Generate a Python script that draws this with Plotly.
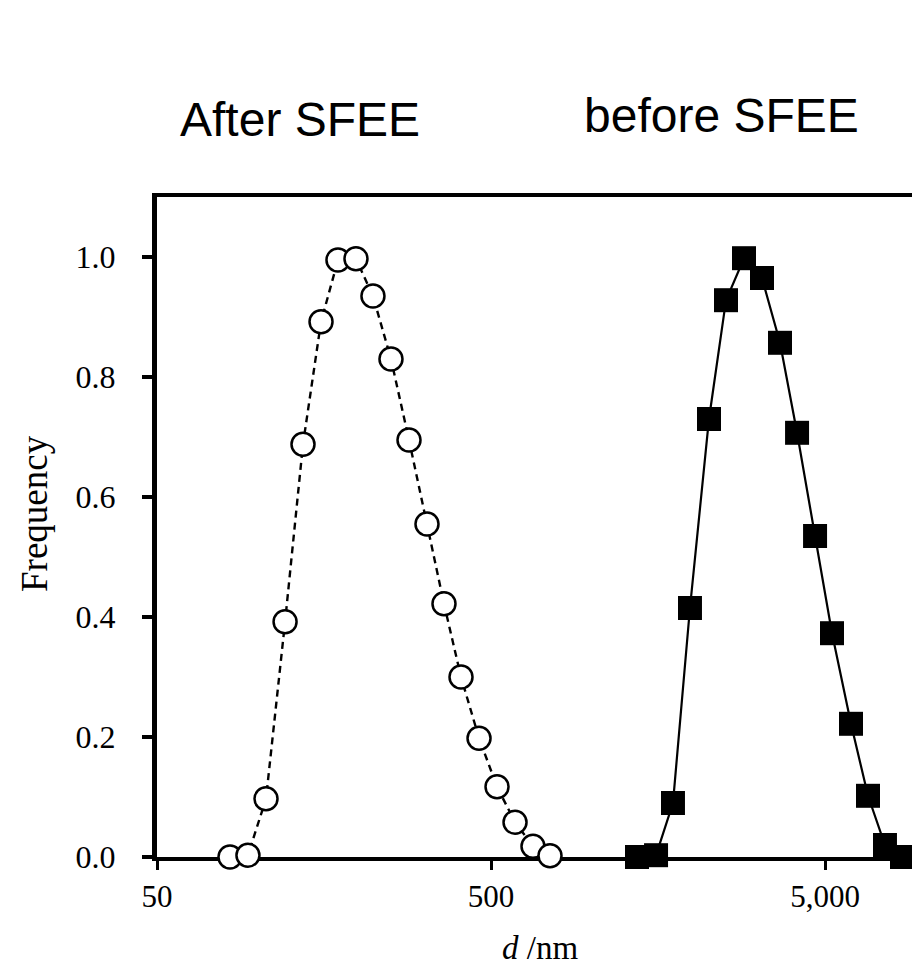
import plotly.graph_objects as go

# After SFEE (open circles, dashed line)
after_d = [82.7, 93.6, 106.0, 120.9, 136.8, 154.9, 174.1, 197.1, 221.6, 250.9,
           284.1, 321.6, 361.6, 406.6, 460.4, 521.2, 590.1, 667.9, 751.0]
after_f = [0.0, 0.003, 0.097, 0.392, 0.688, 0.892, 0.995, 0.997, 0.935, 0.830,
           0.695, 0.555, 0.422, 0.300, 0.198, 0.117, 0.058, 0.018, 0.002]

# before SFEE (filled squares, solid line)
before_d = [1368, 1560, 1753, 1971, 2247, 2527, 2861, 3238, 3667, 4124,
            4669, 5248, 5981, 6726, 7560, 8502]
before_f = [0.0, 0.003, 0.090, 0.415, 0.730, 0.928, 0.998, 0.965, 0.857, 0.707,
            0.535, 0.373, 0.222, 0.102, 0.020, 0.0]

x_tickvals = [50, 500, 5000]
x_ticktext = ["50", "500", "5,000"]
y_tickvals = [0.0, 0.2, 0.4, 0.6, 0.8, 1.0]
y_ticktext = ["0.0", "0.2", "0.4", "0.6", "0.8", "1.0"]

serif = "Liberation Serif"
sans = "Liberation Sans"

# The page body adds an 8 px margin, so the figure is drawn 8 px smaller
# and every position is given 8 px up/left of its place in the window.
OFF = 8
W, H = 920 - OFF, 970 - OFF
plot_l, plot_t, plot_b = 157 - OFF, 197 - OFF, 857 - OFF
plot_w = W - plot_l
plot_h = plot_b - plot_t
decade_px = 334.0
x0 = 1.69897
x1 = x0 + plot_w / decade_px

fig = go.Figure()
fig.add_trace(go.Scatter(
    x=after_d, y=after_f, mode="lines+markers", cliponaxis=False,
    line=dict(color="black", width=2.4, dash="7px,5px"),
    marker=dict(symbol="circle", size=23, color="white",
                line=dict(color="black", width=2.5)),
    showlegend=False))
fig.add_trace(go.Scatter(
    x=before_d, y=before_f, mode="lines+markers", cliponaxis=False,
    line=dict(color="black", width=2.2),
    marker=dict(symbol="square", size=24, color="black",
                line=dict(color="black", width=0)),
    showlegend=False))

fig.update_layout(
    width=W, height=H,
    margin=dict(l=plot_l, r=0, t=plot_t, b=H - plot_b),
    paper_bgcolor="white", plot_bgcolor="white",
    xaxis=dict(type="log", range=[x0, x1],
               tickvals=x_tickvals, ticktext=x_ticktext,
               ticks="outside", ticklen=9, tickwidth=3, tickcolor="black",
               showline=True, linecolor="black", linewidth=4, mirror=True,
               showgrid=False, zeroline=False, layer="below traces",
               ticklabelstandoff=0,
               tickfont=dict(family=serif, size=31, color="black")),
    yaxis=dict(range=[0, 1.1],
               tickvals=y_tickvals, ticktext=y_ticktext,
               ticks="outside", ticklen=10, tickwidth=4, tickcolor="black",
               showline=True, linecolor="black", linewidth=5,
               showgrid=False, zeroline=False, layer="below traces",
               ticklabelstandoff=20,
               tickfont=dict(family=serif, size=32, color="black")),
    annotations=[
        dict(text="Frequency", x=35, y=514, xref="paper", yref="paper",
             showarrow=False, textangle=-90, yanchor="middle",
             font=dict(family=serif, size=37, color="black")),
        dict(text="<i>d</i> /nm", x=540, y=968, xref="paper", yref="paper",
             showarrow=False, yanchor="bottom",
             font=dict(family=serif, size=33, color="black")),
        dict(text="After SFEE", x=300, y=119, xref="paper", yref="paper",
             showarrow=False, yanchor="middle",
             font=dict(family=sans, size=48, color="black")),
        dict(text="before SFEE", x=721, y=116, xref="paper", yref="paper",
             showarrow=False, yanchor="middle",
             font=dict(family=sans, size=48, color="black")),
    ],
)

# Annotation positions are window pixels; convert to paper coordinates
for a in fig.layout.annotations:
    px, py = a.x - OFF, a.y - OFF
    a.x = (px - plot_l) / plot_w
    a.y = 1 - (py - plot_t) / plot_h
    a.xanchor = "center"

fig.write_html("out.html")
